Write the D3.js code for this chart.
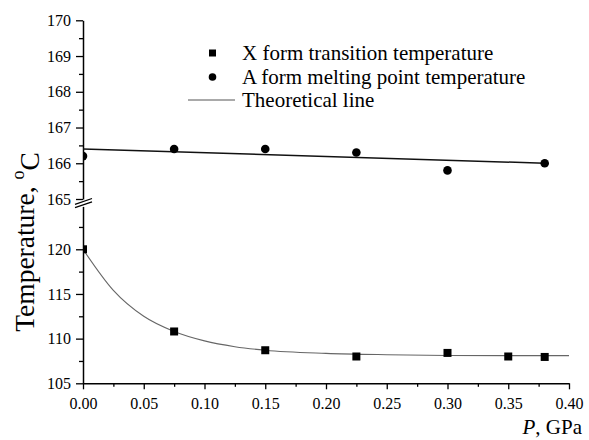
<!DOCTYPE html>
<html>
<head>
<meta charset="utf-8">
<script src="https://cdn.jsdelivr.net/npm/d3@7"></script>
<style>
  html, body { margin: 0; padding: 0; background: #fff; }
  svg { display: block; font-family: "Liberation Serif", "Times New Roman", serif; }
  svg text { font-family: "Liberation Serif", "Times New Roman", serif; }
</style>
</head>
<body>
<svg id="chart" width="589" height="440"></svg>
<script>
// X form transition temperature (squares)
const pressureX = [0, 0.075, 0.15, 0.225, 0.30, 0.35, 0.38];
const tempX = [120.0, 110.8, 108.7, 108.0, 108.4, 108.0, 107.95];
// A form melting point temperature (circles)
const pressureA = [0, 0.075, 0.15, 0.225, 0.30, 0.38];
const tempA = [166.2, 166.4, 166.4, 166.3, 165.8, 166.0];
// Theoretical lines
const theoryAP = [0, 0.38];
const theoryAT = [166.4, 166.0];
const theoryXP = [0, 0.025, 0.05, 0.075, 0.1, 0.125, 0.15, 0.2, 0.25, 0.3, 0.35, 0.4];
const theoryXT = [120.0, 115.4, 112.5, 110.8, 109.75, 109.1, 108.7, 108.35, 108.2, 108.12, 108.1, 108.1];
// Axis ticks
const xMajor = [0, 0.05, 0.10, 0.15, 0.20, 0.25, 0.30, 0.35, 0.40];
const xMinor = [0.025, 0.075, 0.125, 0.175, 0.225, 0.275, 0.325, 0.375];
const yUpperMajor = [165, 166, 167, 168, 169, 170];
const yUpperMinor = [165.5, 166.5, 167.5, 168.5, 169.5];
const yLowerMajor = [105, 110, 115, 120];
const yLowerMinor = [107.5, 112.5, 117.5, 122.5];
const legendLabels = ["X form transition temperature", "A form melting point temperature", "Theoretical line"];

const serif = "Liberation Serif";
const svg = d3.select("#chart");
const left = 83, right = 569;

const x = d3.scaleLinear().domain([0, 0.4]).range([left, right]);
const yUp = d3.scaleLinear().domain([165, 170]).range([199, 20.3]);
const yLo = d3.scaleLinear().domain([105, 124.8]).range([383.3, 206.4]);

svg.append("defs").append("clipPath").attr("id", "plot")
  .append("rect").attr("x", left).attr("y", 0).attr("width", 589 - left).attr("height", 440);

// Axes
function styleAxis(g) {
  g.attr("font-family", serif).attr("font-size", 16);
  g.selectAll("path.domain").attr("stroke", "#000").attr("stroke-width", 1.5);
  g.selectAll(".tick line").attr("stroke", "#000").attr("stroke-width", 1.3);
  g.selectAll(".tick text").attr("fill", "#000");
}

const xAxis = svg.append("g").attr("transform", `translate(0,${yLo(105)})`)
  .call(d3.axisBottom(x).tickValues(xMajor).tickFormat(d3.format(".2f")).tickSize(6).tickPadding(6).tickSizeOuter(0));
styleAxis(xAxis);
xAxis.selectAll(".tick text").attr("dy", "0.85em");
const xAxisMinor = svg.append("g").attr("transform", `translate(0,${yLo(105)})`)
  .call(d3.axisBottom(x).tickValues(xMinor).tickFormat("").tickSize(3.5).tickSizeOuter(0));
styleAxis(xAxisMinor);
xAxisMinor.select("path.domain").remove();

const yUpAxis = svg.append("g").attr("transform", `translate(${left},0)`)
  .call(d3.axisLeft(yUp).tickValues(yUpperMajor).tickFormat(d3.format("d")).tickSize(7).tickPadding(5).tickSizeOuter(0));
styleAxis(yUpAxis);
const yUpMinorAxis = svg.append("g").attr("transform", `translate(${left},0)`)
  .call(d3.axisLeft(yUp).tickValues(yUpperMinor).tickFormat("").tickSize(4).tickSizeOuter(0));
styleAxis(yUpMinorAxis);
yUpMinorAxis.select("path.domain").remove();

const yLoAxis = svg.append("g").attr("transform", `translate(${left},0)`)
  .call(d3.axisLeft(yLo).tickValues(yLowerMajor).tickFormat(d3.format("d")).tickSize(7).tickPadding(5).tickSizeOuter(0));
styleAxis(yLoAxis);
const yLoMinorAxis = svg.append("g").attr("transform", `translate(${left},0)`)
  .call(d3.axisLeft(yLo).tickValues(yLowerMinor).tickFormat("").tickSize(4).tickSizeOuter(0));
styleAxis(yLoMinorAxis);
yLoMinorAxis.select("path.domain").remove();

// Axis break marks
const brk = svg.append("g").attr("stroke", "#000").attr("stroke-width", 1.3);
[yUp(165) + 2.5, yLo(124.8) - 1.5].forEach(cy => {
  brk.append("line").attr("x1", left - 8).attr("y1", cy + 2.8)
    .attr("x2", left + 9).attr("y2", cy - 3);
});

// Theoretical lines
const plot = svg.append("g").attr("clip-path", "url(#plot)");
plot.append("path")
  .datum(theoryAP.map((p, i) => [p, theoryAT[i]]))
  .attr("fill", "none").attr("stroke", "#111").attr("stroke-width", 1.5)
  .attr("d", d3.line().x(d => x(d[0])).y(d => yUp(d[1])));
plot.append("path")
  .datum(theoryXP.map((p, i) => [p, theoryXT[i]]))
  .attr("fill", "none").attr("stroke", "#666").attr("stroke-width", 1.1)
  .attr("d", d3.line().curve(d3.curveMonotoneX).x(d => x(d[0])).y(d => yLo(d[1])));

// Markers
const sq = 8;
plot.selectAll("rect.xform").data(pressureX.map((p, i) => [p, tempX[i]])).join("rect")
  .attr("class", "xform")
  .attr("x", d => x(d[0]) - sq / 2).attr("y", d => yLo(d[1]) - sq / 2)
  .attr("width", sq).attr("height", sq).attr("fill", "#000");
plot.selectAll("circle.aform").data(pressureA.map((p, i) => [p, tempA[i]])).join("circle")
  .attr("class", "aform")
  .attr("cx", d => x(d[0])).attr("cy", d => yUp(d[1])).attr("r", 4.3).attr("fill", "#000");

// Legend
const lg = svg.append("g");
const rowsY = [53, 77, 100];
lg.append("rect").attr("x", 209).attr("y", rowsY[0] - 3.5).attr("width", 7).attr("height", 7).attr("fill", "#000");
lg.append("circle").attr("cx", 212.5).attr("cy", rowsY[1]).attr("r", 3.8).attr("fill", "#000");
lg.append("line").attr("x1", 188).attr("x2", 235).attr("y1", rowsY[2]).attr("y2", rowsY[2])
  .attr("stroke", "#555").attr("stroke-width", 1);
lg.selectAll("text").data(legendLabels).join("text")
  .attr("x", 242)
  .attr("y", (d, i) => rowsY[i] + 7)
  .attr("font-size", 21).attr("fill", "#000")
  .text(d => d);

// Axis titles
const yTitle = svg.append("text")
  .attr("transform", "translate(34,242) rotate(-90)")
  .attr("text-anchor", "middle").attr("font-size", 27.5).attr("fill", "#000");
yTitle.append("tspan").text("Temperature,  ");
yTitle.append("tspan").attr("font-size", 18).attr("dy", "-0.55em").text("o");
yTitle.append("tspan").attr("dy", "0.55em").text("C");

const xTitle = svg.append("text")
  .attr("x", 582).attr("y", 434).attr("text-anchor", "end")
  .attr("font-size", 21).attr("fill", "#000");
xTitle.append("tspan").attr("font-style", "italic").text("P");
xTitle.append("tspan").text(", GPa");
</script>
</body>
</html>
